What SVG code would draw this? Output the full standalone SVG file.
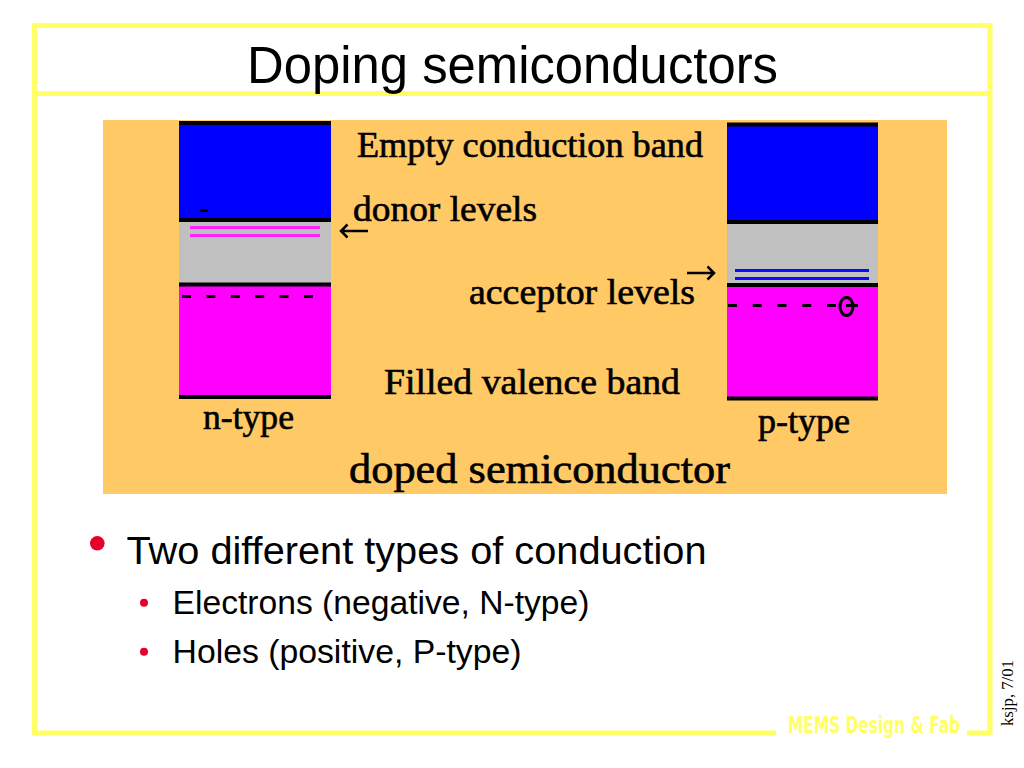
<svg xmlns="http://www.w3.org/2000/svg" width="1024" height="768" viewBox="0 0 1024 768">
  <style>
    .frame { fill: none; stroke: #FFFF66; stroke-width: 5; }
    .serif { font-family: "Liberation Serif", "Times New Roman", serif; fill: #000; }
    .img-text { stroke: #000; stroke-width: 0.6; }
    .sans { font-family: "Liberation Sans", Arial, sans-serif; fill: #000; }
    .band-edge { stroke: #000; stroke-width: 4; }
    .dash { stroke: #000; stroke-width: 3; }
    .arrow { fill: none; stroke: #000; stroke-width: 2.5; }
    .bullet { fill: #E6002B; }
  </style>
  <rect width="1024" height="768" fill="#FFFFFF"/>

  <g id="frame">
    <path class="frame" d="M 776 733 H 34.5 V 25.5 H 990 V 733 H 967"/>
    <line class="frame" x1="34.5" y1="93.5" x2="990" y2="93.5"/>
    <text x="788" y="733" font-family="'Liberation Sans Narrow', 'DejaVu Sans Condensed', 'Liberation Sans', sans-serif" font-weight="bold" font-size="23" fill="#FFFF66" textLength="172" lengthAdjust="spacingAndGlyphs">MEMS Design &amp; Fab</text>
    <text class="serif" transform="translate(1013,726) rotate(-90)" font-size="17" textLength="66" lengthAdjust="spacingAndGlyphs">ksjp, 7/01</text>
  </g>

  <g id="title">
    <text class="sans" x="247" y="83" font-size="51" textLength="531" lengthAdjust="spacingAndGlyphs">Doping semiconductors</text>
  </g>

  <g id="figure">
    <rect x="103" y="120" width="844" height="374" fill="#FFC966"/>

    <g id="n-type-band">
      <rect x="179" y="123" width="152" height="97" fill="#0000FF"/>
      <rect x="179" y="220" width="152" height="64" fill="#C0C0C0"/>
      <rect x="179" y="284" width="152" height="113" fill="#FF00FF"/>
      <line class="band-edge" x1="179" y1="123" x2="331" y2="123"/>
      <line class="band-edge" x1="179" y1="220" x2="331" y2="220"/>
      <line class="band-edge" x1="179" y1="284.5" x2="331" y2="284.5"/>
      <line class="band-edge" x1="179" y1="397" x2="331" y2="397"/>
      <line class="dash" x1="200" y1="210.5" x2="208" y2="210.5"/>
      <line x1="190" y1="227.5" x2="320" y2="227.5" stroke="#FF22FF" stroke-width="3"/>
      <line x1="190" y1="235.5" x2="320" y2="235.5" stroke="#FF22FF" stroke-width="3"/>
      <line class="dash" x1="182" y1="296.5" x2="313" y2="296.5" stroke-dasharray="9 15.4"/>
    </g>

    <g id="p-type-band">
      <rect x="727" y="124" width="151" height="98" fill="#0000FF"/>
      <rect x="727" y="222" width="151" height="63" fill="#C0C0C0"/>
      <rect x="727" y="285" width="151" height="113" fill="#FF00FF"/>
      <line class="band-edge" x1="727" y1="124.5" x2="878" y2="124.5"/>
      <line class="band-edge" x1="727" y1="222" x2="878" y2="222"/>
      <line class="band-edge" x1="727" y1="285" x2="878" y2="285"/>
      <line class="band-edge" x1="727" y1="398.5" x2="878" y2="398.5"/>
      <line x1="735" y1="270.5" x2="869" y2="270.5" stroke="#0A0AFF" stroke-width="3"/>
      <line x1="735" y1="278.5" x2="869" y2="278.5" stroke="#0A0AFF" stroke-width="3"/>
      <line class="dash" x1="728" y1="305.5" x2="837" y2="305.5" stroke-dasharray="9 15.75"/>
      <ellipse cx="846.5" cy="306.5" rx="6.5" ry="9" fill="none" stroke="#000" stroke-width="3"/>
      <line class="dash" x1="846" y1="305.5" x2="858" y2="305.5" stroke-width="2.5"/>
    </g>

    <g id="labels" class="serif img-text">
      <text x="357" y="157" font-size="35" textLength="346" lengthAdjust="spacingAndGlyphs">Empty conduction band</text>
      <text x="353" y="221" font-size="35" textLength="184" lengthAdjust="spacingAndGlyphs">donor levels</text>
      <text x="469" y="304" font-size="35" textLength="226" lengthAdjust="spacingAndGlyphs">acceptor levels</text>
      <text x="384" y="394" font-size="35" textLength="296" lengthAdjust="spacingAndGlyphs">Filled valence band</text>
      <text x="203" y="429" font-size="35" textLength="91" lengthAdjust="spacingAndGlyphs">n-type</text>
      <text x="758" y="433" font-size="35" textLength="92" lengthAdjust="spacingAndGlyphs">p-type</text>
      <text x="349" y="483" font-size="42" textLength="381" lengthAdjust="spacingAndGlyphs">doped semiconductor</text>
    </g>

    <g id="arrows">
      <path class="arrow" d="M 368 231 H 341 M 347.5 224.5 L 341 231 L 347.5 237.5"/>
      <path class="arrow" d="M 687 273 H 714 M 707.5 266.5 L 714 273 L 707.5 279.5"/>
    </g>
  </g>

  <g id="bullets">
    <circle class="bullet" cx="97.3" cy="543.3" r="7.3"/>
    <text class="sans" x="126.5" y="563.5" font-size="39.6" textLength="580" lengthAdjust="spacingAndGlyphs">Two different types of conduction</text>
    <circle class="bullet" cx="144" cy="602.7" r="4"/>
    <text class="sans" x="172.5" y="614.3" font-size="33" textLength="417" lengthAdjust="spacingAndGlyphs">Electrons (negative, N-type)</text>
    <circle class="bullet" cx="144" cy="651.7" r="4"/>
    <text class="sans" x="172.5" y="663.3" font-size="33" textLength="349" lengthAdjust="spacingAndGlyphs">Holes (positive, P-type)</text>
  </g>
</svg>
